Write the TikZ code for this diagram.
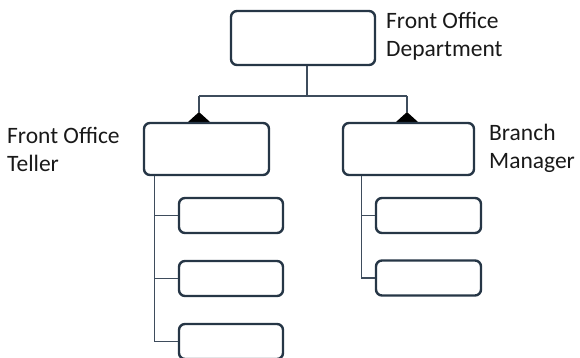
\documentclass[tikz,border=0pt]{standalone}
\usepackage{fontspec}
\setmainfont{Carlito}
\tikzset{
  kasten/.style={draw=boxblau,line width=2.4pt,rounded corners=6pt,fill=white,inner sep=0pt},
  linie/.style={draw=linienblau,line width=1.3pt},
  raute/.style={fill=black},
  etikett/.style={anchor=west,align=left,text=black!90,font=\fontsize{23.5}{28}\selectfont,inner sep=0pt}
}
\definecolor{boxblau}{HTML}{263646}
\definecolor{linienblau}{HTML}{3E4C5C}
\begin{document}
\begin{tikzpicture}[x=1pt,y=-1pt]
\useasboundingbox (0,0) rectangle (580,358);
% Verzweigungspunkte
\coordinate (J)  at (307, 96);
\coordinate (JL) at (199, 96);
\coordinate (JR) at (407, 96);
% Rauten unter den mittleren Kaesten
\foreach \x in {199,407}
  \fill[raute] (\x-11,122) -- (\x,112) -- (\x+11,122) -- (\x,132) -- cycle;
% Kaesten
\node[kasten,minimum width=144pt,minimum height=54pt] (abt) at (303,38) {};
\node[kasten,minimum width=125pt,minimum height=52pt] (tel) at (206.5,149) {};
\node[kasten,minimum width=131pt,minimum height=52pt] (man) at (408.5,149) {};
\foreach \y [count=\i] in {215.5,278.5,341.5}
  \node[kasten,minimum width=104pt,minimum height=35pt] (t\i) at (231,\y) {};
\foreach \y [count=\i] in {215.5,278}
  \node[kasten,minimum width=105pt,minimum height=35pt] (m\i) at (428.5,\y) {};
% Verbindungen oben
\draw[linie] ([xshift=4pt]abt.south) -- (J);
\draw[linie] (JL) -- (JR);
\draw[linie] (JL) -- (199,112);
\draw[linie] (JR) -- (407,112);
% Staemme links und rechts
\draw[linie] ([xshift=12pt]tel.south west) |- (t3.west);
\draw[linie] ([xshift=12pt]tel.south west) |- (t1.west);
\draw[linie] ([xshift=12pt]tel.south west) |- (t2.west);
\draw[linie] ([xshift=20pt]man.south west) |- (m2.west);
\draw[linie] ([xshift=20pt]man.south west) |- (m1.west);
% Beschriftungen
\node[etikett] (labt) at (386,36) {Front Office\\Department};
\node[etikett] (ltel) at (7,149) {Front Office\\Teller};
\node[etikett] (lman) at (489,148) {Branch\\Manager};
\end{tikzpicture}
\end{document}
